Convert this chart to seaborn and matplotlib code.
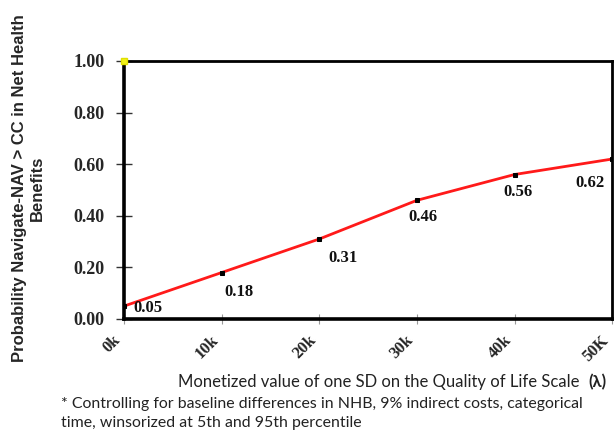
import matplotlib
matplotlib.use("Agg")
import matplotlib.pyplot as plt
import seaborn as sns
import pandas as pd

# values
lam_k = [0, 10, 20, 30, 40, 50]
prob = [0.05, 0.18, 0.31, 0.46, 0.56, 0.62]
point_labels = ["0.05", "0.18", "0.31", "0.46", "0.56", "0.62"]
xtick_labels = ["0k", "10k", "20k", "30k", "40k", "50K"]
ytick_vals = [0.0, 0.2, 0.4, 0.6, 0.8, 1.0]
# label offsets in pixels (dx, dy), relative to each point
label_offsets = [(9, -2), (3, -19), (9, -19), (-9, -17), (-11, -17), (-37, -24)]

df = pd.DataFrame({"lam": lam_k, "prob": prob})

sns.set_theme(style="white")
plt.rcParams["font.family"] = ["Liberation Serif", "DejaVu Serif"]

fig = plt.figure(figsize=(6.14, 4.32), dpi=100)
ax = fig.add_axes([0.202, 0.2616, 0.795, 0.5972])

sns.lineplot(data=df, x="lam", y="prob", color="#ff1a1a", linewidth=2,
             marker="s", markersize=3, markerfacecolor="black",
             markeredgecolor="black", ax=ax)
# stray yellow marker in the top-left corner
ax.plot([0], [1.0], marker="s", markersize=5, color="#f2f21a",
        markeredgecolor="#e0e000", clip_on=False, zorder=5)

for x, y, txt, (dx, dy) in zip(lam_k, prob, point_labels, label_offsets):
    ax.annotate(txt, xy=(x, y), xytext=(dx * 0.72, dy * 0.72),
                textcoords="offset points", ha="left", va="center",
                fontsize=12, fontweight="bold", color="#111111")

ax.set_xlim(0, 50)
ax.set_ylim(0, 1.0)
ax.set_xticks(lam_k)
ax.set_xticklabels(xtick_labels, rotation=45, ha="right",
                   fontsize=12, fontweight="bold")
ax.set_yticks(ytick_vals)
ax.set_yticklabels([f"{v:.2f}" for v in ytick_vals],
                   fontsize=13, fontweight="bold")
ax.tick_params(axis="y", direction="inout", length=12, width=1,
               color="#333333", pad=8, left=True)
ax.tick_params(axis="x", direction="inout", length=7, width=0.8,
               color="#999999", pad=6, bottom=True)

for s in ax.spines.values():
    s.set_color("black")
    s.set_linewidth(2)
ax.spines["left"].set_linewidth(2.6)
ax.spines["bottom"].set_linewidth(2.6)

ax.set_xlabel("")
ax.set_ylabel("")

fig.text(0.046, 0.565, "Probability Navigate-NAV > CC in Net Health\nBenefits",
         rotation=90, ha="center", va="center", fontsize=12,
         fontweight="bold", family=["Liberation Sans", "DejaVu Sans"],
         linespacing=1.2)

xl = fig.text(0.29, 0.104, "Monetized value of one SD on the Quality of Life Scale",
              ha="left", va="baseline", fontsize=12,
              family=["Lato", "DejaVu Sans"], color="#222222")
ax.annotate("(λ)", xy=(1, 0), xycoords=xl, xytext=(6, 0),
            textcoords="offset points", ha="left", va="bottom",
            fontsize=12, fontweight="bold",
            family=["Lato", "DejaVu Sans"], color="#222222")

fig.text(0.1, 0.004,
         "* Controlling for baseline differences in NHB, 9% indirect costs, categorical\n"
         "time, winsorized at 5th and 95th percentile",
         ha="left", va="bottom", fontsize=11.4, linespacing=1.45,
         family=["Lato", "DejaVu Sans"], color="#222222")

fig.savefig("out.png", dpi=100, facecolor="white")
